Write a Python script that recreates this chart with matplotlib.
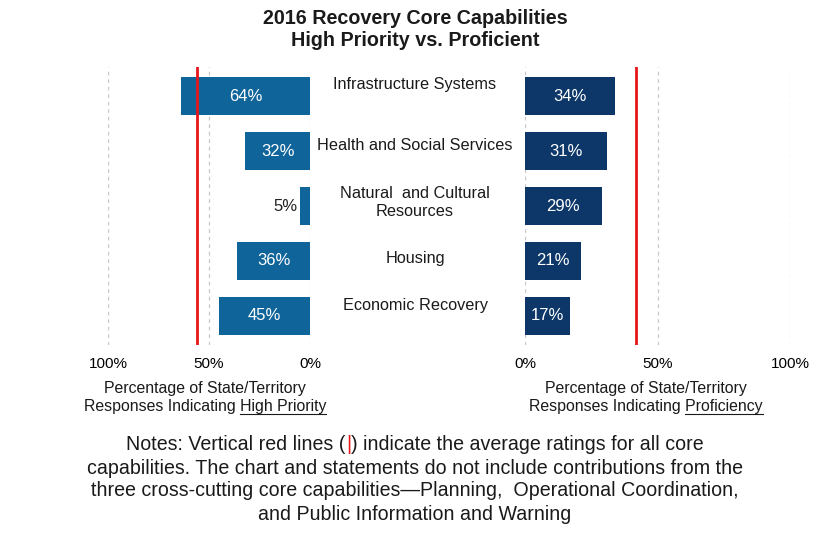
import matplotlib
matplotlib.use("Agg")
import matplotlib.pyplot as plt
from matplotlib.lines import Line2D

plt.rcParams['font.family'] = ['Liberation Sans', 'DejaVu Sans']

# data
categories = ["Infrastructure Systems", "Health and Social Services",
              "Natural  and Cultural\nResources", "Housing", "Economic Recovery"]
high_priority = [64, 32, 5, 36, 45]
proficient = [34, 31, 29, 21, 17]
avg_priority = 56
avg_proficient = 42
ticks = [0, 50, 100]

# small vertical nudges for the centre labels (px)
label_dy = [-12, -6, -4, -2, -10]

col_left = "#0f649a"
col_right = "#0c3768"
col_red = "#e8161b"

W, H = 830, 550
fig = plt.figure(figsize=(W / 100, H / 100), dpi=100)


def box(x0, x1, y0, y1):
    return [x0 / W, 1 - y1 / H, (x1 - x0) / W, (y1 - y0) / H]


axL = fig.add_axes(box(108, 310, 67, 345))
axR = fig.add_axes(box(525, 790, 67, 345))

n = len(categories)
ypos = list(range(n))

for ax, vals, col, avg in [(axL, high_priority, col_left, avg_priority),
                           (axR, proficient, col_right, avg_proficient)]:
    ax.barh(ypos, vals, height=0.68, color=col, zorder=2)
    ax.set_xlim(0, 100)
    ax.set_ylim(n - 0.47, -0.53)
    for t in ticks:
        ax.axvline(t, color="#c8c8c8", lw=0.9, ls=(0, (3, 3)), zorder=1)
    ax.axvline(avg, color=col_red, lw=2, zorder=3)
    ax.set_xticks(ticks)
    ax.set_xticklabels([f"{t}%" for t in ticks], fontsize=11)
    ax.set_yticks([])
    ax.tick_params(axis="x", length=0, pad=9)
    for s in ax.spines.values():
        s.set_visible(False)
    ax.patch.set_alpha(0)
    for i, v in enumerate(vals):
        if v < 10:
            ax.text(v + 1, i, f"{v}%", ha="right", va="center", fontsize=12, color="#222222")
        else:
            ax.text(v / 2, i, f"{v}%", ha="center", va="center", fontsize=12, color="white")

axL.set_xlim(100, 0)

# centre category labels
for i, c in enumerate(categories):
    axL.annotate(c, xy=(415 / W, i), xycoords=("figure fraction", "data"),
                 xytext=(0, -label_dy[i] * 0.72), textcoords="offset points",
                 ha="center", va="center", fontsize=11.7, color="#1a1a1a",
                 linespacing=1.25, annotation_clip=False)

# title
fig.text(415 / W, 1 - 18 / H, "2016 Recovery Core Capabilities", ha="center", va="center",
         fontsize=14.2, fontweight="bold", color="#1a1a1a")
fig.text(415 / W, 1 - 41 / H, "High Priority vs. Proficient", ha="center", va="center",
         fontsize=14.2, fontweight="bold", color="#1a1a1a")

# axis labels
fig.text(205 / W, 1 - 388 / H, "Percentage of State/Territory", ha="center", va="center",
         fontsize=11.4, color="#1a1a1a")
labL = fig.text(205 / W, 1 - 407 / H, "Responses Indicating High Priority", ha="center",
                va="center", fontsize=11.4, color="#1a1a1a")
fig.text(646 / W, 1 - 388 / H, "Percentage of State/Territory", ha="center", va="center",
         fontsize=11.4, color="#1a1a1a")
labR = fig.text(646 / W, 1 - 407 / H, "Responses Indicating Proficiency", ha="center",
                va="center", fontsize=11.4, color="#1a1a1a")

# notes
note_fs = 14.1
note_y = [445, 468, 491, 514]
seg = [("Notes: Vertical red lines (", "#1a1a1a"), ("|", col_red),
       (") indicate the average ratings for all core", "#1a1a1a")]
t0 = fig.text(0, 1 - note_y[0] / H, seg[0][0], ha="left", va="center",
              fontsize=note_fs, color=seg[0][1])
parts = [t0]
for s, c in seg[1:]:
    t = plt.annotate(s, xy=(1, 0), xycoords=parts[-1], va="bottom", ha="left",
                     fontsize=note_fs, color=c, annotation_clip=False)
    parts.append(t)

other = ["capabilities. The chart and statements do not include contributions from the",
         "three cross-cutting core capabilities\u2014Planning,  Operational Coordination,",
         "and Public Information and Warning"]
for k, s in enumerate(other):
    fig.text(415 / W, 1 - note_y[k + 1] / H, s, ha="center", va="center",
             fontsize=note_fs, color="#1a1a1a")

# centre first notes line and add underlines
fig.canvas.draw()
r = fig.canvas.get_renderer()
x0 = parts[0].get_window_extent(r).x0
x1 = parts[-1].get_window_extent(r).x1
t0.set_x((415 - (x1 - x0) / 2) / W)
fig.canvas.draw()


def underline(txt, word):
    bb = txt.get_window_extent(r)
    tmp = fig.text(0, 0, word, fontsize=txt.get_fontsize())
    w = tmp.get_window_extent(r).width
    tmp.remove()
    yb = bb.y0 + 1
    fig.add_artist(Line2D([(bb.x1 - w) / W, bb.x1 / W], [yb / H, yb / H],
                          transform=fig.transFigure, color="#1a1a1a", lw=0.8))


underline(labL, "High Priority")
underline(labR, "Proficiency")

fig.savefig("out.png", dpi=100, facecolor="white")
